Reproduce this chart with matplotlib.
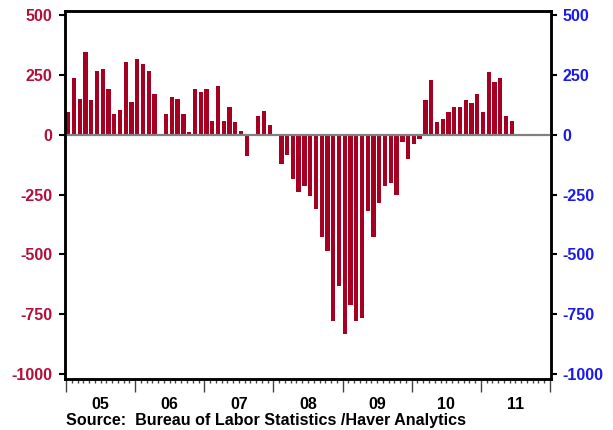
import numpy as np
import matplotlib
matplotlib.use("Agg")
import matplotlib.pyplot as plt
from matplotlib.transforms import blended_transform_factory

plt.rcParams['font.family'] = ['Liberation Sans', 'DejaVu Sans']
plt.rcParams['font.weight'] = 'bold'

# monthly change, thousands, Jan 2005 .. Jun 2011
vals_2005 = [95, 235, 147, 346, 143, 263, 275, 189, 85, 102, 304, 135]
vals_2006 = [313, 292, 263, 168, 3, 85, 156, 147, 85, 11, 189, 176]
vals_2007 = [189, 56, 201, 56, 114, 52, 14, -91, 0, 77, 100, 39]
vals_2008 = [0, -122, -85, -184, -238, -213, -258, -312, -427, -485, -778, -630]
vals_2009 = [-832, -712, -778, -766, -320, -427, -287, -213, -204, -250, -30, -101]
vals_2010 = [-38, -19, 143, 229, 52, 64, 93, 114, 114, 143, 130, 167]
vals_2011 = [93, 262, 221, 237, 76, 56]
years = ['05', '06', '07', '08', '09', '10', '11']
yticks = [500, 250, 0, -250, -500, -750, -1000]

values = vals_2005 + vals_2006 + vals_2007 + vals_2008 + vals_2009 + vals_2010 + vals_2011
months = np.arange(len(values))

bar_color = '#a50021'
left_color = '#b0103a'
right_color = '#1a1aee'

fig = plt.figure(figsize=(6.13, 4.30), dpi=100)
ax = fig.add_axes([65 / 613, 51 / 430, 486 / 613, 368 / 430])

ax.bar(months, values, width=0.75, align='edge', color=bar_color, zorder=2)
ax.axhline(0, color='#808080', lw=1.6, zorder=3)

ax.set_xlim(-0.17, 84.17)
ax.set_ylim(-1019, 515)

# y axis left
ax.set_yticks(yticks)
ax.set_yticklabels([str(t) for t in yticks])
ax.tick_params(axis='y', direction='out', length=4, width=1.5, pad=5,
               labelsize=11.5, labelcolor=left_color)

# x axis: year ticks + monthly minor ticks
ax.set_xticks(np.arange(0, 85, 12))
ax.set_xticklabels([])
ax.set_xticks([m for m in range(85) if m % 12], minor=True)
ax.tick_params(axis='x', which='major', direction='out', length=9, width=1.0, color='#444444')
ax.tick_params(axis='x', which='minor', direction='out', length=3, width=1.0, color='#444444')

trans = blended_transform_factory(ax.transData, ax.transAxes)
for i, y in enumerate(years):
    ax.text(12 * i + 6, -0.068, y, transform=trans, ha='center', va='center',
            fontsize=11.5, fontweight='bold', color='black')

for s in ax.spines.values():
    s.set_linewidth(1.8)
    s.set_color('black')

# right axis
ax2 = ax.twinx()
ax2.set_ylim(ax.get_ylim())
ax2.set_yticks(yticks)
ax2.set_yticklabels([str(t) for t in yticks])
ax2.tick_params(axis='y', direction='out', length=4, width=1.5, pad=4,
                labelsize=11.5, labelcolor=right_color)
for s in ax2.spines.values():
    s.set_linewidth(1.8)

fig.text(66 / 613, 1 - 421 / 430, 'Source:  Bureau of Labor Statistics /Haver Analytics',
         ha='left', va='center', fontsize=11.6, fontweight='bold', color='black')

fig.savefig('out.png', dpi=100)
